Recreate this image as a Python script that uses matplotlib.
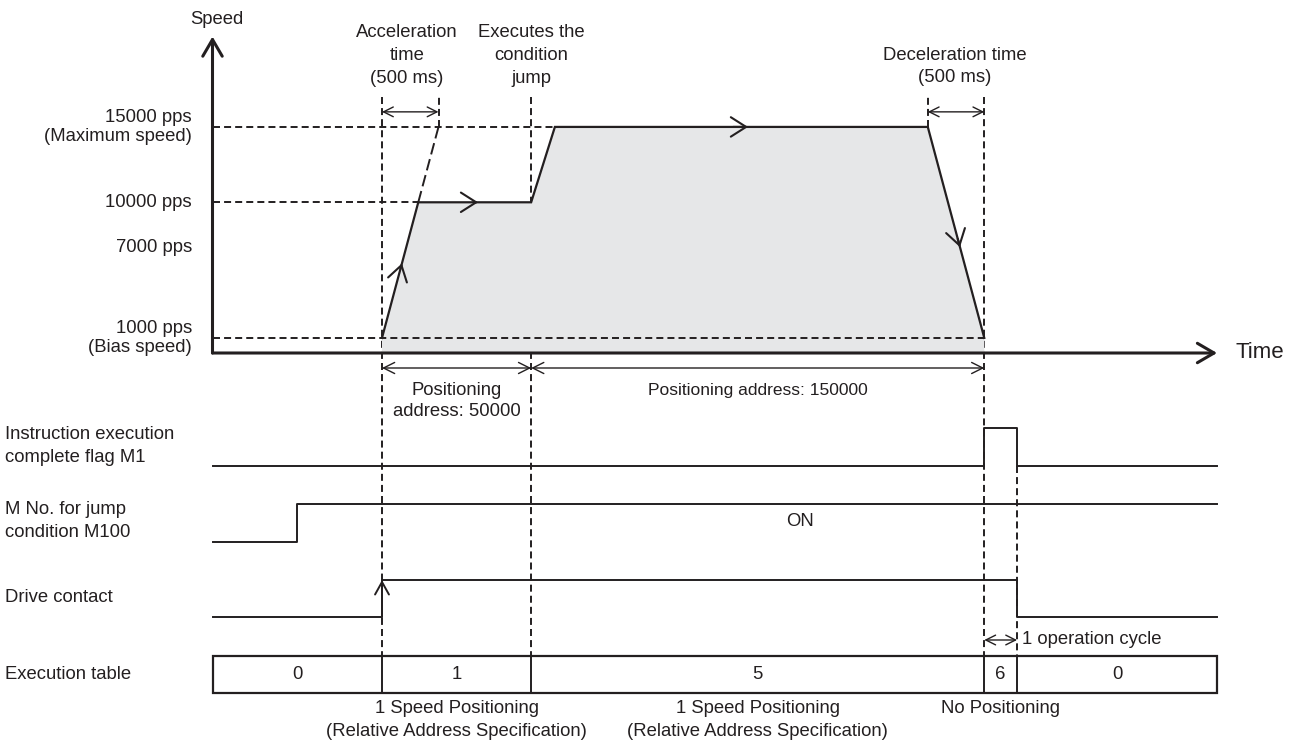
import matplotlib
matplotlib.use("Agg")
import matplotlib.pyplot as plt
from matplotlib.patches import Polygon, Rectangle
from matplotlib import transforms

plt.rcParams['font.family'] = ['Liberation Sans', 'DejaVu Sans']

# ---------------- data ----------------
speed_levels = [15000, 10000, 7000, 1000]
speed_labels = ["15000 pps\n(Maximum speed)", "10000 pps", "7000 pps", "1000 pps\n(Bias speed)"]
bias_speed = 1000
jump_speed = 10000
max_speed = 15000
marker_speed = 17000      # top of the dashed event markers
span_speed = 16000        # level of the 500 ms span arrows
axis_top_speed = 21000

# speed profile (schematic time in ms, speed in pps)
profile_t = [0, 321, 1320, 1530, 4830, 5330]
profile_v = [1000, 10000, 10000, 15000, 15000, 1000]
accel_time = 500
decel_time = 500

t_axis_start = -1500
t_axis_end = 7390
t_m100_on = -750
t_start = 0
t_jump = 1320
t_dec = 4830
t_end = 5330
t_cycle_end = 5620

# signals (step states)
m1_t = [t_axis_start, t_end, t_cycle_end, t_axis_end]
m1_s = [0, 1, 0, 0]
m100_t = [t_axis_start, t_m100_on, t_axis_end]
m100_s = [0, 1, 1]
drive_t = [t_axis_start, t_start, t_cycle_end, t_axis_end]
drive_s = [0, 1, 0, 0]

table_bounds = [t_axis_start, t_start, t_jump, t_end, t_cycle_end, t_axis_end]
table_values = ["0", "1", "5", "6", "0"]
table_notes = ["", "1 Speed Positioning\n(Relative Address Specification)",
               "1 Speed Positioning\n(Relative Address Specification)", "No Positioning", ""]

signal_names = ["Instruction execution\ncomplete flag M1", "M No. for jump\ncondition M100", "Drive contact"]

# ---------------- layout ----------------
W, H = 1292, 740
PX_PER_MS = 0.113
X0 = 382.0
PX_PER_PPS = (338 - 127) / 14000.0
Y0 = 353.0
INK = '#231f20'
FILL = '#e6e7e8'
FS = 13.3
LS = 1.45

fig = plt.figure(figsize=(W / 100, H / 100), dpi=100)
xlim = (-X0 / PX_PER_MS, (W - X0) / PX_PER_MS)

ax_lay = fig.add_axes([0, 0, 1, 1])
ax_lay.set_xlim(0, W); ax_lay.set_ylim(H, 0); ax_lay.axis('off')

ax_sig = fig.add_axes([0, 0, 1, 1])
ax_sig.set_xlim(*xlim); ax_sig.set_ylim(H, 0); ax_sig.axis('off')
ax_sig.patch.set_alpha(0)

ax_sp = fig.add_axes([0, 0, 1, 1])
ax_sp.set_xlim(*xlim)
ax_sp.set_ylim(-(H - Y0) / PX_PER_PPS, Y0 / PX_PER_PPS)
ax_sp.axis('off')
ax_sp.patch.set_alpha(0)

dash = (0, (3.6, 2.1))
DLW = 1.4


def arrow(ax, p0, p1, style, lw=1.4, color=INK, z=5):
    ax.annotate('', xy=p1, xytext=p0,
                arrowprops=dict(arrowstyle=style, lw=lw, color=color,
                                shrinkA=0, shrinkB=0, mutation_scale=10),
                zorder=z)


# ---- speed chart ----
poly = [(profile_t[0], 0)] + list(zip(profile_t, profile_v)) + [(profile_t[-1], 0)]
ax_sp.add_patch(Polygon(poly, closed=True, facecolor=FILL, edgecolor='none', zorder=1))
ax_sp.plot(profile_t, profile_v, color=INK, lw=1.6, zorder=4, solid_joinstyle='miter')

# dashed horizontal guide lines
ax_sp.plot([t_axis_start, profile_t[3]], [max_speed, max_speed], color=INK, lw=DLW, ls=dash, zorder=3)
ax_sp.plot([t_axis_start, profile_t[1]], [jump_speed, jump_speed], color=INK, lw=DLW, ls=dash, zorder=3)
ax_sp.plot([t_axis_start, t_end], [bias_speed, bias_speed], color=INK, lw=DLW, ls=dash, zorder=3)
# acceleration extension
ax_sp.plot([profile_t[1], accel_time], [jump_speed, max_speed], color=INK, lw=DLW,
           ls=(0, (6, 2.5)), zorder=3)
ax_sp.plot([accel_time, accel_time], [max_speed, marker_speed], color=INK, lw=DLW, ls=dash, zorder=3)
ax_sp.plot([t_dec, t_dec], [max_speed, marker_speed], color=INK, lw=DLW, ls=dash, zorder=3)

# span arrows
arrow(ax_sp, (t_start, span_speed), (t_start + accel_time, span_speed), '<->,head_length=0.7,head_width=0.35', lw=1.0)
arrow(ax_sp, (t_dec, span_speed), (t_dec + decel_time, span_speed), '<->,head_length=0.7,head_width=0.35', lw=1.0)

# direction chevrons on profile
for i, f in [(0, 0.55), (1, 0.53), (3, 0.518), (4, 0.57)]:
    ta, va = profile_t[i], profile_v[i]
    tb, vb = profile_t[i + 1], profile_v[i + 1]
    p1 = (ta + f * (tb - ta), va + f * (vb - va))
    p0 = (ta + (f - 0.04) * (tb - ta), va + (f - 0.04) * (vb - va))
    arrow(ax_sp, p0, p1, '->,head_length=1.1,head_width=0.7', lw=1.5)

# axes
arrow(ax_sp, (t_axis_start, 0), (t_axis_end, 0), '->,head_length=1.2,head_width=0.7', lw=2.2)
arrow(ax_sp, (t_axis_start, 0), (t_axis_start, axis_top_speed), '->,head_length=1.2,head_width=0.7', lw=2.2)

# y labels
bt = transforms.blended_transform_factory(ax_lay.transData, ax_sp.transData)
for v, lab in zip(speed_levels, speed_labels):
    ax_sp.text(192, v, lab, transform=bt, ha='right', va='center', fontsize=FS,
               color=INK, linespacing=1.2)
ax_lay.text(217, 19, "Speed", ha='center', va='center', fontsize=FS, color=INK)
ax_lay.text(1235, 352, "Time", ha='left', va='center', fontsize=16, color=INK)

# annotations top
ax_lay.text(407, 55.5, "Acceleration\ntime\n(500 ms)", ha='center', va='center', fontsize=FS, color=INK, linespacing=LS)
ax_lay.text(531, 55.5, "Executes the\ncondition\njump", ha='center', va='center', fontsize=FS, color=INK, linespacing=LS)
ax_lay.text(955, 66.5, "Deceleration time\n(500 ms)", ha='center', va='center', fontsize=FS, color=INK, linespacing=LS)

# ---- signal section ----
rows = [(466, 428), (542, 504), (617, 580)]
sig_data = [(m1_t, m1_s), (m100_t, m100_s), (drive_t, drive_s)]
for (low, high), (ts, ss) in zip(rows, sig_data):
    ys = [low - s * (low - high) for s in ss]
    ax_sig.step(ts, ys, where='post', color=INK, lw=1.4, zorder=4)

# drive contact rising arrow head
arrow(ax_sig, (t_start, 617), (t_start, 580), '->,head_length=0.9,head_width=0.5', lw=1.4)

# dashed event markers
marker_top_px = Y0 - marker_speed * PX_PER_PPS
table_top, table_bot = 656, 693
for t in [t_start, t_jump, t_end]:
    ax_sig.plot([t, t], [marker_top_px, table_top], color=INK, lw=DLW, ls=dash, zorder=3)
ax_sig.plot([t_cycle_end, t_cycle_end], [466, table_top], color=INK, lw=DLW, ls=dash, zorder=3)

# positioning span arrows
arrow(ax_sig, (t_start, 368), (t_jump, 368), '<->,head_length=0.8,head_width=0.4', lw=1.0)
arrow(ax_sig, (t_jump, 368), (t_end, 368), '<->,head_length=0.8,head_width=0.4', lw=1.0)
ax_sig.text((t_start + t_jump) / 2, 401, "Positioning\naddress: 50000", ha='center', va='center',
            fontsize=FS, color=INK, linespacing=1.35)
ax_sig.text((t_jump + t_end) / 2, 391, "Positioning address: 150000", ha='center', va='center',
            fontsize=12.5, color=INK)
ax_sig.text(3700, 522, "ON", ha='center', va='center', fontsize=FS, color=INK)

# operation cycle
arrow(ax_sig, (t_end, 640), (t_cycle_end, 640), '<->,head_length=0.7,head_width=0.35', lw=1.0)
ax_sig.text(t_cycle_end + 40, 640, "1 operation cycle", ha='left', va='center', fontsize=FS, color=INK)

# execution table
ax_sig.add_patch(Rectangle((t_axis_start, table_top), t_axis_end - t_axis_start, table_bot - table_top,
                           facecolor='white', edgecolor=INK, lw=1.6, zorder=2))
for t in table_bounds[1:-1]:
    ax_sig.plot([t, t], [table_top, table_bot], color=INK, lw=1.4, zorder=4)
for i, val in enumerate(table_values):
    c = (table_bounds[i] + table_bounds[i + 1]) / 2
    ax_sig.text(c, (table_top + table_bot) / 2, val, ha='center', va='center', fontsize=FS, color=INK)
    note = table_notes[i]
    if note:
        ax_sig.text(c, 700, note, ha='center', va='top', fontsize=FS, color=INK, linespacing=LS)

# left labels
ax_lay.text(5, 446, signal_names[0], ha='left', va='center', fontsize=FS, color=INK, linespacing=LS)
ax_lay.text(5, 521, signal_names[1], ha='left', va='center', fontsize=FS, color=INK, linespacing=LS)
ax_lay.text(5, 597, signal_names[2], ha='left', va='center', fontsize=FS, color=INK)
ax_lay.text(5, 674.5, "Execution table", ha='left', va='center', fontsize=FS, color=INK)

fig.savefig('out.png', dpi=100)
